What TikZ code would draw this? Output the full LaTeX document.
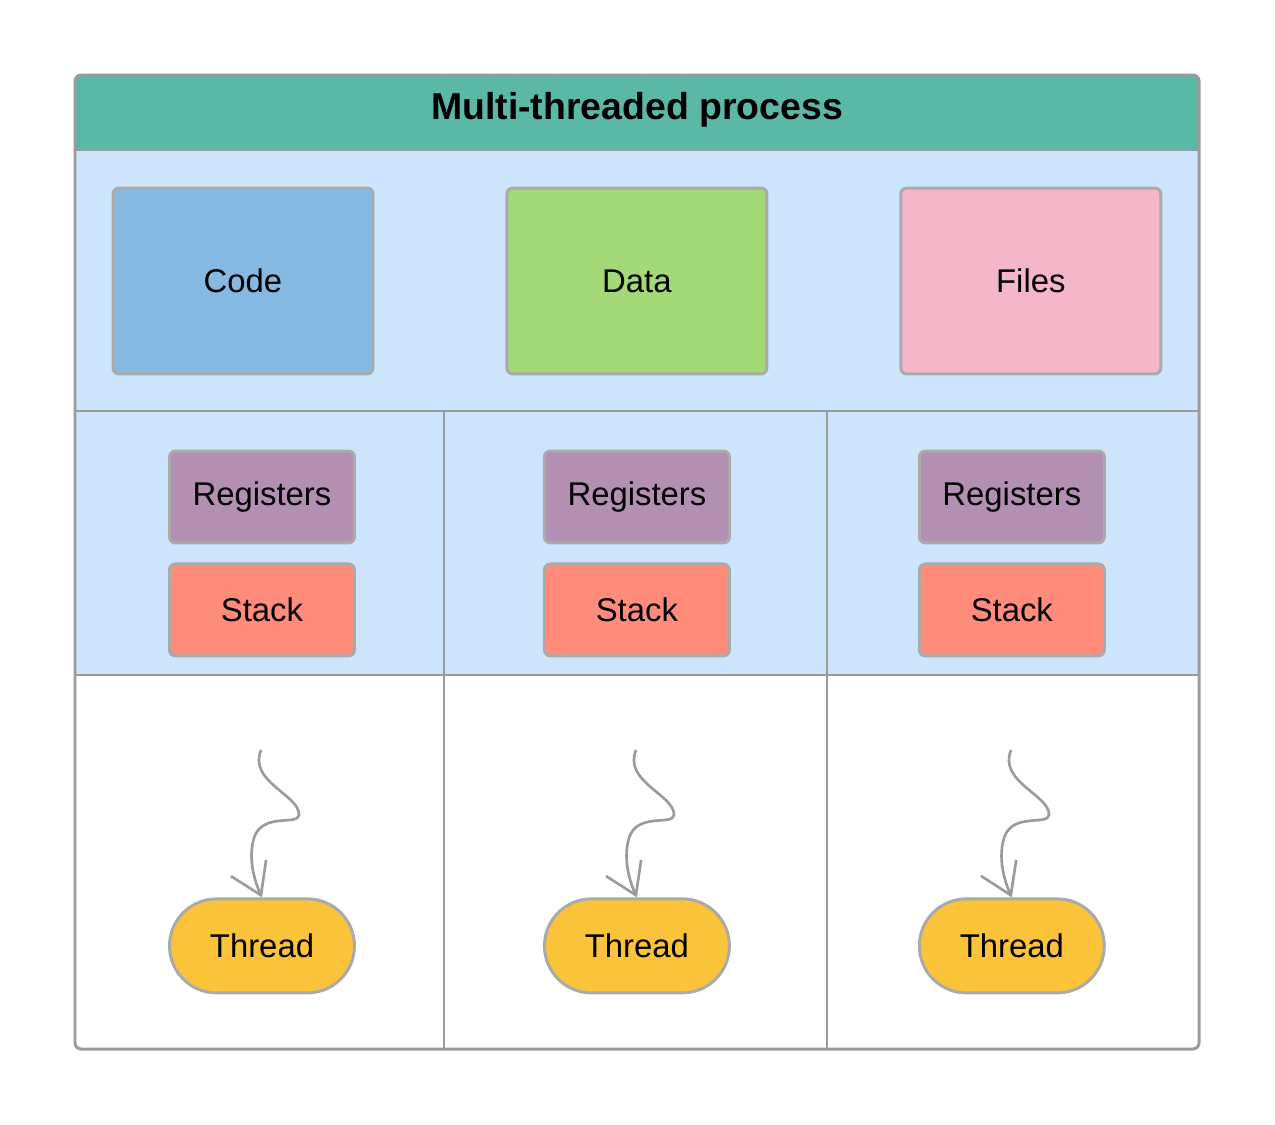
\documentclass[tikz,border=0pt]{standalone}
\usepackage{fontspec}
\setmainfont{Liberation Sans}
\usetikzlibrary{positioning,arrows.meta}
\definecolor{framegray}{HTML}{9B9B9B}
\definecolor{boxgray}{HTML}{AAAAAA}
\definecolor{headgreen}{HTML}{5CB8A6}
\definecolor{paleblue}{HTML}{CCE5FC}
\definecolor{codeblue}{HTML}{85B9E2}
\definecolor{datagreen}{HTML}{A3D977}
\definecolor{filespink}{HTML}{F4B6C8}
\definecolor{regpurple}{HTML}{B390B3}
\definecolor{stackred}{HTML}{FF8C7B}
\definecolor{threadyellow}{HTML}{FBC33A}
\tikzstyle{membox} = [rectangle, rounded corners=0.12cm, minimum width=5.2cm, minimum height=3.72cm, text centered, draw=boxgray, line width=1.7pt, font=\fontsize{18.7}{22}\selectfont]
\tikzstyle{thbox} = [rectangle, rounded corners=0.12cm, minimum width=3.7cm, minimum height=1.84cm, text centered, draw=boxgray, line width=1.7pt, font=\fontsize{18.7}{22}\selectfont]
\tikzstyle{threadbox} = [thbox, minimum height=1.88cm, rounded corners=0.94cm, fill=threadyellow]
\tikzstyle{wiggle} = [draw=framegray, line width=1.5pt, -{Straight Barb[length=17pt,width=22pt]}]

\begin{document}
\begin{tikzpicture}[x=0.02cm, y=-0.02cm, node distance=.36cm]
    \useasboundingbox (0,0) rectangle (1275,1125);

    % backgrounds
    \fill[white, rounded corners=0.12cm] (75,75) rectangle (1199,1049);
    \fill[headgreen, rounded corners=0.12cm] (75,75) rectangle (1199,150);
    \fill[headgreen] (75,120) rectangle (1199,150);
    \fill[paleblue] (75,150) rectangle (1199,411);
    \fill[paleblue, rounded corners=0.08cm] (75,411) rectangle (1199,675);
    \draw[framegray, line width=0.8pt] (75,411) -- (1199,411);
    \draw[framegray, line width=0.8pt] (75,675) -- (1199,675);
    \draw[framegray, line width=0.8pt] (444,411) -- (444,1049);
    \draw[framegray, line width=0.8pt] (827,411) -- (827,1049);
    \draw[framegray, line width=1.2pt] (75,150) -- (1199,150);
    \draw[framegray, line width=1.7pt, rounded corners=0.12cm] (75,75) rectangle (1199,1049);

    \node (title) at (637,110) {\fontsize{21.3}{25}\selectfont\bfseries Multi-threaded process};

    \node (code) [membox, fill=codeblue] at (243,281) {Code};
    \node (data) [membox, fill=datagreen, right=2.62cm of code] {Data};
    \node (files) [membox, fill=filespink, right=2.62cm of data] {Files};

    \node (reg1) [thbox, fill=regpurple] at (262,497) {Registers};
    \node (reg2) [thbox, fill=regpurple, right=3.74cm of reg1] {Registers};
    \node (reg3) [thbox, fill=regpurple, right=3.74cm of reg2] {Registers};
    \node (stack1) [thbox, fill=stackred, below=of reg1] {Stack};
    \node (stack2) [thbox, fill=stackred, below=of reg2] {Stack};
    \node (stack3) [thbox, fill=stackred, below=of reg3] {Stack};
    \node (thread1) [threadbox, below=4.8cm of stack1] {Thread};
    \node (thread2) [threadbox, below=4.8cm of stack2] {Thread};
    \node (thread3) [threadbox, below=4.8cm of stack3] {Thread};

    \coordinate (w1) at (261,750);
    \coordinate (w2) at (636,750);
    \coordinate (w3) at (1011,750);

    \draw[wiggle] (w1) .. controls (248,782) and (300,795) .. (299,815) .. controls (298,826) and (262,812) .. (254,838) .. controls (248,858) and (254,880) .. (thread1.north);
    \draw[wiggle] (w2) .. controls (623,782) and (675,795) .. (674,815) .. controls (673,826) and (637,812) .. (629,838) .. controls (623,858) and (629,880) .. (thread2.north);
    \draw[wiggle] (w3) .. controls (998,782) and (1050,795) .. (1049,815) .. controls (1048,826) and (1012,812) .. (1004,838) .. controls (998,858) and (1004,880) .. (thread3.north);

  \end{tikzpicture}
\end{document}
